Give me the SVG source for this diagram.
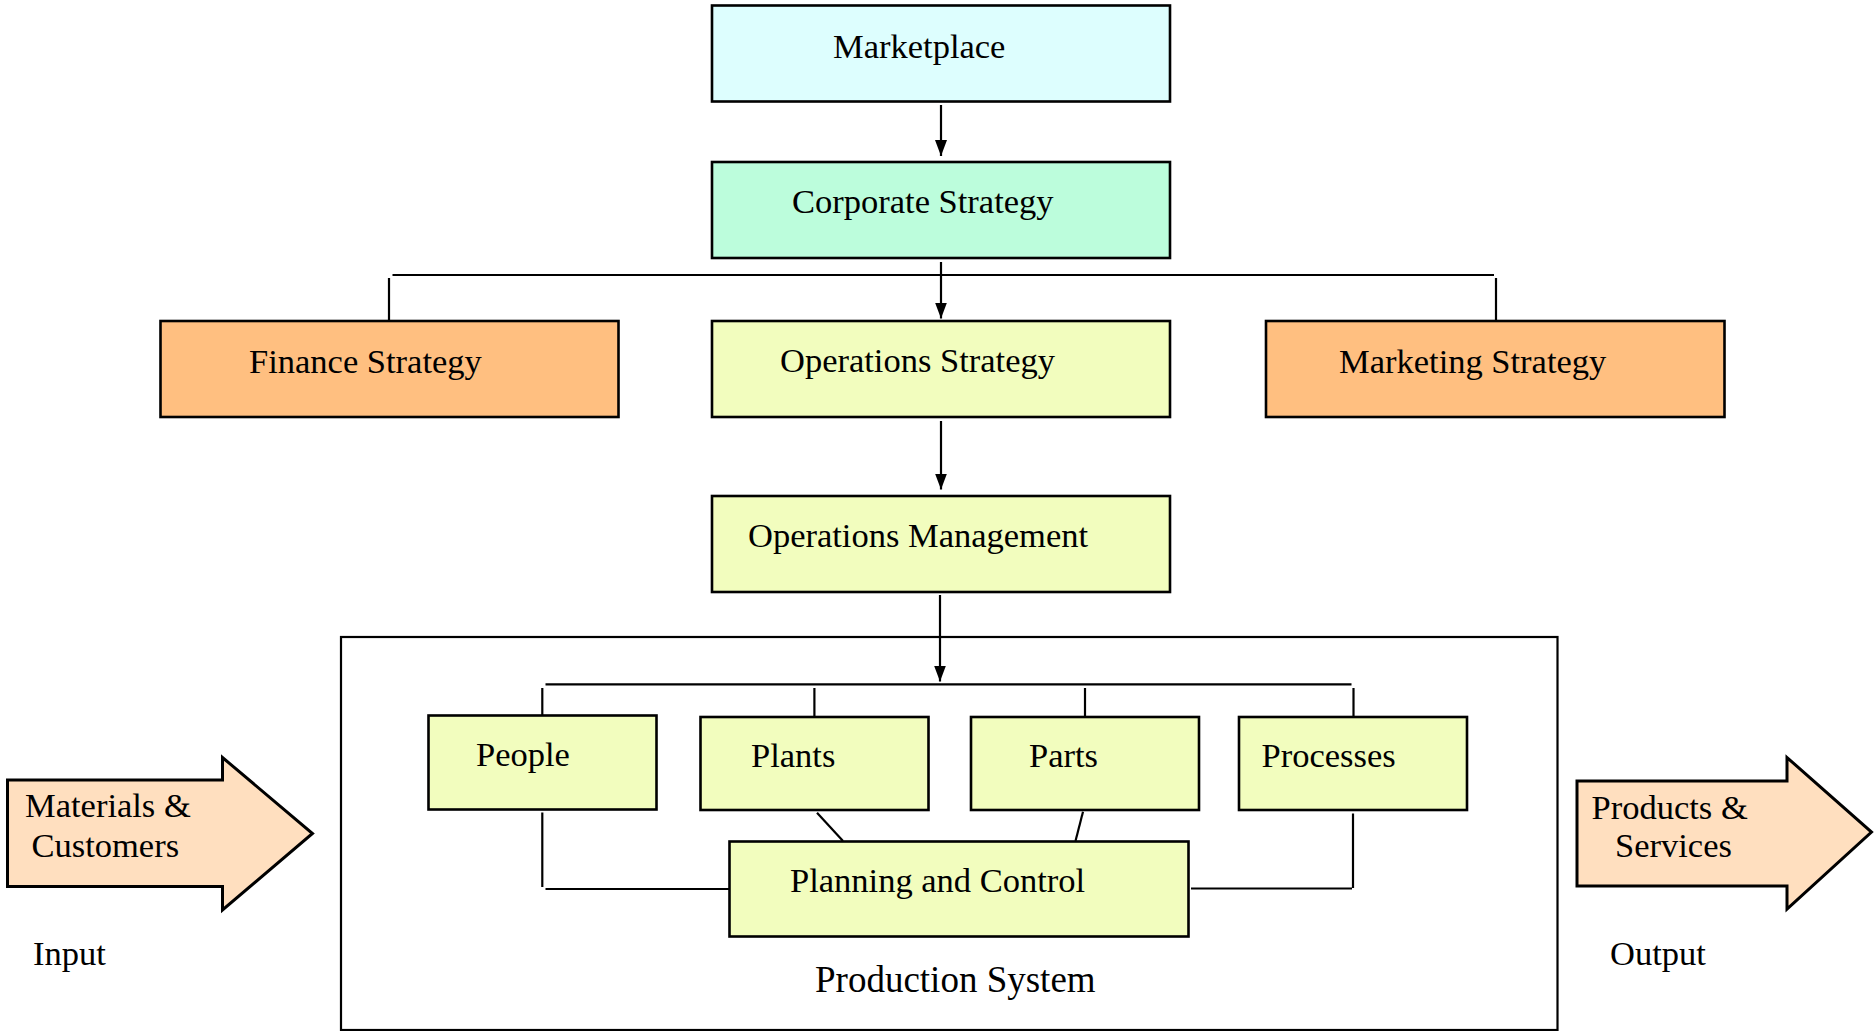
<svg xmlns="http://www.w3.org/2000/svg" width="1874" height="1031" viewBox="0 0 1874 1031">
<style>
  .box { stroke: #000; stroke-width: 2.6; }
  .cyan { fill: #DDFEFE; }
  .mint { fill: #BCFDDC; }
  .orange { fill: #FFBF80; }
  .yellow { fill: #F2FDBE; }
  .peach { fill: #FFDFBF; stroke: #000; stroke-width: 3; stroke-linejoin: miter; }
  .frame { fill: none; stroke: #000; stroke-width: 2.2; }
  .t { font-family: "Liberation Serif", "Times New Roman", serif; font-size: 34.5px; fill: #000; }
  .big { font-size: 37px; }
  .conn line, .conn polyline { stroke: #000; stroke-width: 2.2; fill: none; }
</style>
<defs>
  <marker id="ah" markerUnits="userSpaceOnUse" markerWidth="16" markerHeight="12" refX="16" refY="6" orient="auto">
    <path d="M0,0 L16,6 L0,12 z" fill="#000"/>
  </marker>
</defs>
<rect width="1874" height="1031" fill="#fff"/>

<g id="production-system">
  <rect class="frame" x="341" y="637" width="1216.5" height="393"/>
  <text class="t big" x="815" y="992">Production System</text>
</g>

<g id="marketplace">
  <rect class="box cyan" x="712" y="5.5" width="458" height="96"/>
  <text class="t" x="833" y="58">Marketplace</text>
</g>
<g id="corporate-strategy">
  <rect class="box mint" x="712" y="162" width="458" height="96"/>
  <text class="t" x="792" y="213">Corporate Strategy</text>
</g>
<g id="finance-strategy">
  <rect class="box orange" x="160.5" y="321" width="458" height="96"/>
  <text class="t" x="249" y="372.5">Finance Strategy</text>
</g>
<g id="operations-strategy">
  <rect class="box yellow" x="712" y="321" width="458" height="96"/>
  <text class="t" x="780" y="372">Operations Strategy</text>
</g>
<g id="marketing-strategy">
  <rect class="box orange" x="1266" y="321" width="458.5" height="96"/>
  <text class="t" x="1339" y="372.5">Marketing Strategy</text>
</g>
<g id="operations-management">
  <rect class="box yellow" x="712" y="496" width="458" height="96"/>
  <text class="t" x="748" y="547">Operations Management</text>
</g>
<g id="people">
  <rect class="box yellow" x="428.5" y="715.5" width="228" height="94"/>
  <text class="t" x="476" y="766">People</text>
</g>
<g id="plants">
  <rect class="box yellow" x="700.5" y="717" width="228" height="93"/>
  <text class="t" x="751" y="767">Plants</text>
</g>
<g id="parts">
  <rect class="box yellow" x="971" y="717" width="228" height="93"/>
  <text class="t" x="1029" y="767">Parts</text>
</g>
<g id="processes">
  <rect class="box yellow" x="1239" y="717" width="228" height="93"/>
  <text class="t" x="1261.5" y="767">Processes</text>
</g>
<g id="planning-control">
  <rect class="box yellow" x="729.5" y="841.5" width="459" height="95"/>
  <text class="t" x="790" y="892">Planning and Control</text>
</g>

<g id="input-arrow">
  <polygon class="peach" points="7.5,780 222.5,780 222.5,757.5 312.5,833.5 222.5,910 222.5,886.5 7.5,886.5"/>
  <text class="t" x="25" y="817">Materials &amp;</text>
  <text class="t" x="31.5" y="857">Customers</text>
  <text class="t" x="33" y="965">Input</text>
</g>
<g id="output-arrow">
  <polygon class="peach" points="1577,781 1787,781 1787,757.5 1871.5,832 1787,909 1787,886 1577,886"/>
  <text class="t" x="1591.5" y="818.5">Products &amp;</text>
  <text class="t" x="1615" y="857">Services</text>
  <text class="t" x="1610" y="965">Output</text>
</g>

<g id="connectors" class="conn">
  <line x1="941" y1="105" x2="941" y2="156" marker-end="url(#ah)"/>
  <line x1="941" y1="262" x2="941" y2="318.5" marker-end="url(#ah)"/>
  <line x1="392.5" y1="275" x2="1494" y2="275"/>
  <line x1="389" y1="278" x2="389" y2="321"/>
  <line x1="1496" y1="278" x2="1496" y2="321"/>
  <line x1="941" y1="421" x2="941" y2="489.5" marker-end="url(#ah)"/>
  <line x1="940" y1="595" x2="940" y2="681.5" marker-end="url(#ah)"/>
  <line x1="545.5" y1="684.3" x2="1351.5" y2="684.3"/>
  <line x1="542.3" y1="688" x2="542.3" y2="715"/>
  <line x1="814.4" y1="688" x2="814.4" y2="717"/>
  <line x1="1085" y1="688" x2="1085" y2="717"/>
  <line x1="1353.5" y1="688" x2="1353.5" y2="717"/>
  <line x1="542.3" y1="812.5" x2="542.3" y2="887"/>
  <line x1="545.5" y1="889" x2="729" y2="889"/>
  <line x1="817" y1="812.7" x2="843" y2="841"/>
  <line x1="1083" y1="811.7" x2="1075.5" y2="841"/>
  <line x1="1353" y1="813.5" x2="1353" y2="888"/>
  <line x1="1191" y1="888.5" x2="1352" y2="888.5"/>
</g>
</svg>
